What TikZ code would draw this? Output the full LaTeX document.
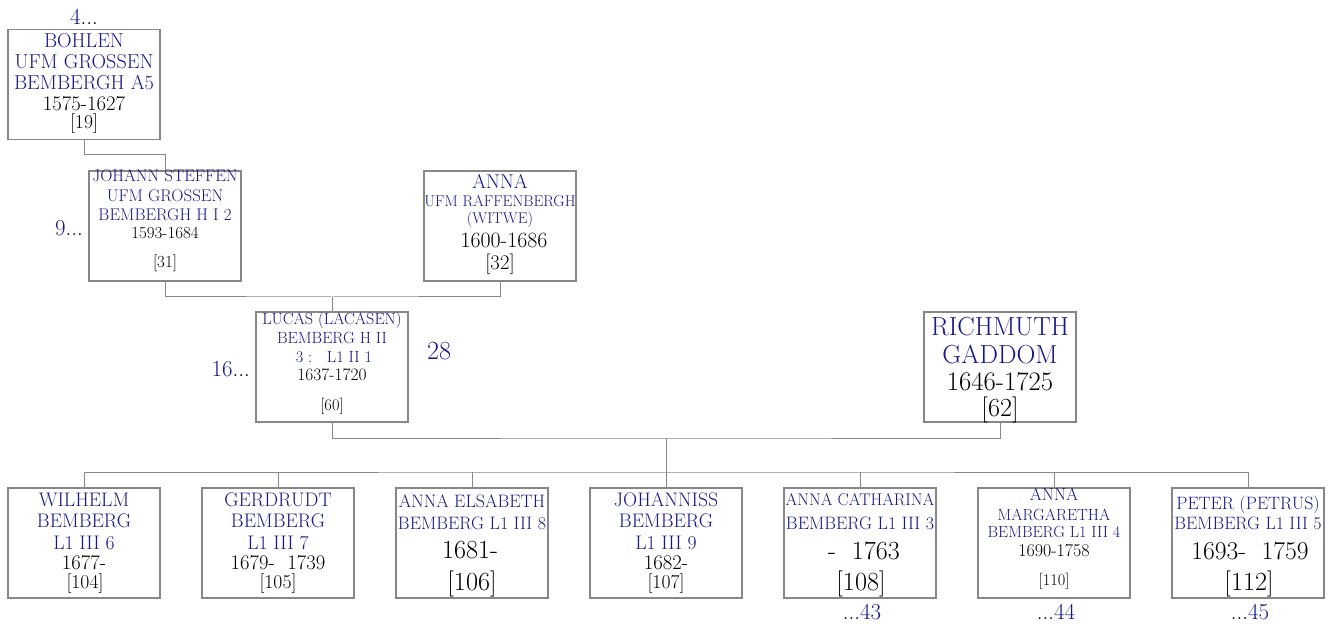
\documentclass[tikz,border=0pt]{standalone}
\definecolor{nblue}{RGB}{24,24,138}
\definecolor{bgray}{RGB}{135,135,135}
\definecolor{lgray}{RGB}{135,135,135}
\newcommand\fs[1]{\fontsize{\fpeval{1.09*#1}}{\fpeval{1.09*#1}}\selectfont}
\newcommand\tl[5]{\node[#1,font=\fs{#2}] (#3) at (#4) {#5};}
\newcommand\dd{\textcolor{black}{...}}
\begin{document}
\begin{tikzpicture}[x=1pt,y=-1pt,
  box/.style={draw=bgray, line width=1.4pt, minimum width=152pt, minimum height=110pt, inner sep=0pt},
  bl/.style={anchor=base, inner sep=0pt, text=nblue},
  bk/.style={anchor=base, inner sep=0pt, text=black},
  link/.style={draw=lgray, line width=1pt}]
\useasboundingbox (0,0) rectangle (1342,628);

% boxes
\node[box] (A) at (84,84.5) {};
\node[box] (B) at (165,226) {};
\node[box] (C) at (500,226) {};
\node[box] (D) at (332,367) {};
\node[box] (E) at (1000,367) {};
\node[box] (c1) at (84,543) {};
\node[box] (c2) at (278,543) {};
\node[box] (c3) at (472,543) {};
\node[box] (c4) at (666,543) {};
\node[box] (c5) at (860,543) {};
\node[box] (c6) at (1054,543) {};
\node[box] (c7) at (1248,543) {};

% connectors
\coordinate (j1) at (165,155);
\draw[link] (A.south) |- (j1) -- (B.north);
\coordinate (m1) at (332,297);
\draw[link] (B.south) |- (m1) -| (C.south);
\draw[link] (m1) -- (D.north);
\coordinate (m2) at (666,438);
\draw[link] (D.south) |- (m2) -| (E.south);
\coordinate (bar) at (666,472);
\draw[link] (m2) -- (bar);
\draw[link] (c1.north) |- (bar) -| (c7.north);
\foreach \i in {2,...,6} \draw[link] (c\i.north) -- (c\i.north |- bar);

% A
\tl{bl}{18.5}{a1}{84,48}{BOHLEN}
\tl{bl}{18.5}{a2}{84,69}{UFM GROSSEN}
\tl{bl}{18.5}{a3}{84,90}{BEMBERGH A5}
\tl{bk}{19}{a4}{84,111}{1575-1627}
\tl{bk}{18}{a5}{84,129}{[19]}
\node[bl,font=\fs{21}] (l4) at (84,25) {4\dd};

% B
\tl{bl}{15.5}{b1}{165,182}{JOHANN STEFFEN}
\tl{bl}{15.5}{b2}{165,201.5}{UFM GROSSEN}
\tl{bl}{15.5}{b3}{165,221}{BEMBERGH H I 2}
\tl{bk}{15.5}{b4}{165,239}{1593-1684}
\tl{bk}{15.5}{b5}{165,267.5}{[31]}
\node[bl,font=\fs{21},anchor=base east] (l9) at (83,236) {9\dd};

% C
\tl{bl}{18.3}{k1}{500,188.3}{ANNA}
\tl{bl}{14.3}{k2}{500,206.7}{UFM RAFFENBERGH}
\tl{bl}{14.3}{k3}{500,224}{(WITWE)}
\tl{bk}{20}{k4}{504,248}{1600-1686}
\tl{bk}{19}{k5}{500,270}{[32]}

% D
\tl{bl}{14.9}{d1}{332,325}{LUCAS (LACASEN)}
\tl{bl}{14.9}{d2}{332,344}{BEMBERG H II}
\tl{bl}{14.9}{d3}{334,362.7}{3 :\ \ \ L1 II 1}
\tl{bk}{16}{d4}{332,381}{1637-1720}
\tl{bk}{15}{d5}{332,410}{[60]}
\node[bl,font=\fs{21},anchor=base east] (l16) at (250,376.7) {16\dd};
\node[bl,font=\fs{24},anchor=base west] (l28) at (427,359.3) {28};

% E
\tl{bl}{24}{e1}{1000,336}{RICHMUTH}
\tl{bl}{24}{e2}{1000,363.3}{GADDOM}
\tl{bk}{24.5}{e3}{1000,391}{1646-1725}
\tl{bk}{24}{e4}{1000,416}{[62]}

% children
\tl{bl}{18}{f1}{84,506}{WILHELM}
\tl{bl}{18}{f2}{84,527}{BEMBERG}
\tl{bl}{18}{f3}{84,549}{L1 III 6}
\tl{bk}{19}{f4}{84,569.5}{1677-}
\tl{bk}{18}{f5}{85,588}{[104]}

\tl{bl}{18}{g1}{278,506}{GERDRUDT}
\tl{bl}{18}{g2}{278,527}{BEMBERG}
\tl{bl}{18}{g3}{278,549}{L1 III 7}
\tl{bk}{19}{g4}{278,569.5}{1679-\ \ 1739}
\tl{bk}{18}{g5}{278,588}{[105]}

\tl{bl}{16.5}{h1}{472,507}{ANNA ELSABETH}
\tl{bl}{16.5}{h2}{472,529}{BEMBERG L1 III 8}
\tl{bk}{24}{h3}{470,558}{1681-}
\tl{bk}{24}{h4}{472,590.5}{[106]}

\tl{bl}{18}{i1}{666,506}{JOHANNISS}
\tl{bl}{18}{i2}{666,527}{BEMBERG}
\tl{bl}{18}{i3}{666,549}{L1 III 9}
\tl{bk}{19}{i4}{666,569.5}{1682-}
\tl{bk}{18}{i5}{666,588}{[107]}

\tl{bl}{15.5}{p1}{860,505}{ANNA CATHARINA}
\tl{bl}{16.5}{p2}{860,529}{BEMBERG L1 III 3}
\tl{bk}{24}{p3}{864,559}{-\ \ 1763}
\tl{bk}{24}{p4}{861,590}{[108]}
\node[bl,font=\fs{21}] (l43) at (862,619) {\dd 43};

\tl{bl}{16}{q1}{1054,500.7}{ANNA}
\tl{bl}{14.8}{q2}{1054,520}{MARGARETHA}
\tl{bl}{14.8}{q3}{1054,537.3}{BEMBERG L1 III 4}
\tl{bk}{16.5}{q4}{1054,556.7}{1690-1758}
\tl{bk}{15}{q5}{1054,585}{[110]}
\node[bl,font=\fs{21}] (l44) at (1056,619) {\dd 44};

\tl{bl}{16.4}{r1}{1248,509}{PETER (PETRUS)}
\tl{bl}{16.4}{r2}{1248,529}{BEMBERG L1 III 5}
\tl{bk}{23.5}{r3}{1250,559}{1693-\ \ 1759}
\tl{bk}{24}{r4}{1249,590}{[112]}
\node[bl,font=\fs{21}] (l45) at (1250,619) {\dd 45};
\end{tikzpicture}
\end{document}
